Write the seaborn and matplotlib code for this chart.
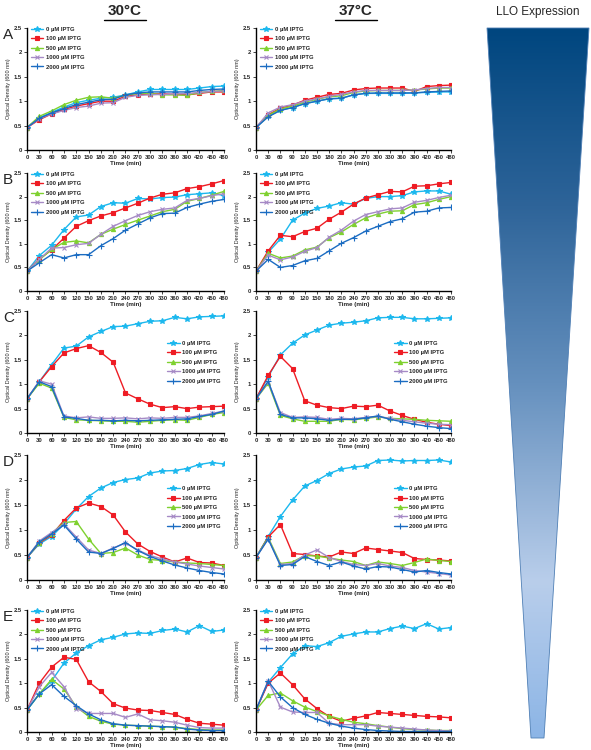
import matplotlib
matplotlib.use("Agg")
import matplotlib.pyplot as plt
import matplotlib.patches as mpatches
from matplotlib.lines import Line2D
from matplotlib.colors import LinearSegmentedColormap
import pandas as pd
import seaborn as sns
import numpy as np

# time points (min)
times = list(range(0, 481, 30))
concs = ['0 µM IPTG', '100 µM IPTG', '500 µM IPTG', '1000 µM IPTG', '2000 µM IPTG']

# OD600 readings per panel, one list per IPTG concentration (0, 100, 500, 1000, 2000)
a30 = [
    [0.46, 0.66, 0.77, 0.88, 0.97, 1.02, 1.06, 1.08, 1.13, 1.19, 1.24, 1.24, 1.24, 1.24, 1.27, 1.30, 1.31],
    [0.46, 0.62, 0.74, 0.83, 0.90, 0.95, 1.00, 1.00, 1.10, 1.13, 1.15, 1.15, 1.14, 1.13, 1.16, 1.19, 1.19],
    [0.46, 0.69, 0.80, 0.93, 1.02, 1.08, 1.09, 1.06, 1.12, 1.16, 1.16, 1.13, 1.13, 1.12, 1.18, 1.20, 1.22],
    [0.46, 0.64, 0.74, 0.81, 0.87, 0.90, 0.96, 0.97, 1.08, 1.12, 1.13, 1.14, 1.15, 1.16, 1.18, 1.20, 1.21],
    [0.46, 0.65, 0.76, 0.85, 0.93, 0.98, 1.03, 1.04, 1.13, 1.17, 1.19, 1.19, 1.19, 1.19, 1.22, 1.24, 1.25],
]
a37 = [
    [0.46, 0.69, 0.82, 0.87, 0.95, 1.00, 1.05, 1.06, 1.13, 1.16, 1.16, 1.16, 1.16, 1.17, 1.18, 1.19, 1.19],
    [0.46, 0.72, 0.86, 0.92, 1.02, 1.08, 1.14, 1.16, 1.23, 1.26, 1.27, 1.27, 1.27, 1.20, 1.30, 1.32, 1.33],
    [0.46, 0.71, 0.84, 0.90, 0.98, 1.04, 1.09, 1.11, 1.18, 1.21, 1.22, 1.22, 1.22, 1.23, 1.25, 1.27, 1.27],
    [0.46, 0.76, 0.88, 0.93, 1.00, 1.05, 1.10, 1.14, 1.19, 1.22, 1.22, 1.22, 1.22, 1.23, 1.26, 1.28, 1.28],
    [0.46, 0.68, 0.81, 0.87, 0.95, 1.00, 1.05, 1.06, 1.13, 1.16, 1.17, 1.17, 1.17, 1.17, 1.19, 1.20, 1.21],
]
b30 = [
    [0.42, 0.75, 0.97, 1.30, 1.57, 1.61, 1.79, 1.87, 1.86, 1.96, 1.95, 1.98, 1.99, 2.04, 2.06, 2.08, 2.02],
    [0.42, 0.68, 0.87, 1.12, 1.37, 1.49, 1.59, 1.66, 1.76, 1.86, 1.97, 2.05, 2.08, 2.17, 2.21, 2.27, 2.34],
    [0.42, 0.66, 0.88, 1.03, 1.06, 1.02, 1.20, 1.31, 1.41, 1.50, 1.59, 1.68, 1.73, 1.90, 1.96, 2.03, 2.11],
    [0.42, 0.67, 0.91, 0.92, 0.98, 1.01, 1.20, 1.37, 1.49, 1.60, 1.68, 1.73, 1.76, 1.92, 1.96, 2.02, 2.06],
    [0.42, 0.60, 0.77, 0.70, 0.77, 0.77, 0.96, 1.11, 1.29, 1.42, 1.55, 1.64, 1.65, 1.77, 1.84, 1.90, 1.94],
]
b37 = [
    [0.42, 0.82, 1.10, 1.50, 1.65, 1.75, 1.80, 1.87, 1.84, 1.96, 2.00, 2.00, 2.02, 2.10, 2.12, 2.12, 2.05],
    [0.42, 0.85, 1.18, 1.15, 1.26, 1.33, 1.52, 1.67, 1.84, 1.97, 2.04, 2.11, 2.10, 2.22, 2.23, 2.27, 2.30],
    [0.42, 0.80, 0.70, 0.74, 0.87, 0.93, 1.13, 1.25, 1.41, 1.55, 1.63, 1.69, 1.70, 1.83, 1.87, 1.94, 2.00],
    [0.42, 0.76, 0.66, 0.72, 0.84, 0.92, 1.14, 1.29, 1.48, 1.62, 1.68, 1.74, 1.76, 1.88, 1.92, 1.98, 2.03],
    [0.42, 0.67, 0.50, 0.54, 0.64, 0.69, 0.85, 1.01, 1.13, 1.27, 1.37, 1.47, 1.53, 1.67, 1.69, 1.76, 1.77],
]
c30 = [
    [0.70, 1.05, 1.40, 1.74, 1.78, 1.97, 2.08, 2.18, 2.19, 2.24, 2.29, 2.30, 2.37, 2.34, 2.38, 2.39, 2.40],
    [0.70, 1.05, 1.36, 1.64, 1.73, 1.79, 1.65, 1.45, 0.82, 0.70, 0.59, 0.52, 0.54, 0.50, 0.53, 0.54, 0.55],
    [0.70, 1.02, 0.92, 0.32, 0.27, 0.26, 0.25, 0.24, 0.24, 0.22, 0.24, 0.26, 0.27, 0.26, 0.32, 0.38, 0.42],
    [0.70, 1.07, 1.00, 0.35, 0.31, 0.33, 0.30, 0.30, 0.31, 0.29, 0.31, 0.30, 0.32, 0.32, 0.35, 0.40, 0.45],
    [0.70, 1.05, 0.95, 0.33, 0.30, 0.26, 0.26, 0.25, 0.26, 0.25, 0.26, 0.27, 0.28, 0.29, 0.34, 0.38, 0.45],
]
c37 = [
    [0.70, 1.15, 1.60, 1.84, 2.01, 2.11, 2.21, 2.25, 2.27, 2.30, 2.36, 2.37, 2.37, 2.34, 2.34, 2.35, 2.36],
    [0.70, 1.18, 1.57, 1.32, 0.66, 0.57, 0.52, 0.50, 0.55, 0.54, 0.57, 0.45, 0.36, 0.28, 0.22, 0.18, 0.15],
    [0.70, 1.02, 0.36, 0.29, 0.24, 0.24, 0.24, 0.28, 0.27, 0.30, 0.33, 0.30, 0.29, 0.28, 0.26, 0.25, 0.24],
    [0.70, 1.05, 0.42, 0.32, 0.33, 0.32, 0.28, 0.30, 0.29, 0.32, 0.34, 0.30, 0.26, 0.23, 0.20, 0.18, 0.17],
    [0.70, 1.06, 0.38, 0.31, 0.31, 0.29, 0.26, 0.28, 0.28, 0.31, 0.35, 0.28, 0.23, 0.18, 0.14, 0.11, 0.09],
]
d30 = [
    [0.45, 0.72, 0.87, 1.12, 1.42, 1.67, 1.84, 1.95, 2.01, 2.04, 2.14, 2.18, 2.19, 2.23, 2.31, 2.35, 2.32],
    [0.45, 0.74, 0.90, 1.19, 1.44, 1.54, 1.47, 1.30, 0.96, 0.72, 0.57, 0.46, 0.36, 0.44, 0.35, 0.34, 0.29],
    [0.45, 0.75, 0.93, 1.15, 1.17, 0.82, 0.53, 0.55, 0.64, 0.50, 0.41, 0.39, 0.36, 0.34, 0.33, 0.31, 0.29],
    [0.45, 0.78, 0.95, 1.12, 0.86, 0.60, 0.53, 0.64, 0.74, 0.60, 0.49, 0.42, 0.36, 0.32, 0.28, 0.25, 0.22],
    [0.45, 0.76, 0.92, 1.10, 0.82, 0.56, 0.53, 0.63, 0.75, 0.59, 0.47, 0.38, 0.30, 0.24, 0.19, 0.15, 0.12],
]
d37 = [
    [0.45, 0.87, 1.27, 1.60, 1.88, 1.99, 2.13, 2.22, 2.26, 2.28, 2.39, 2.40, 2.38, 2.39, 2.39, 2.40, 2.36],
    [0.45, 0.86, 1.11, 0.53, 0.51, 0.48, 0.46, 0.56, 0.53, 0.64, 0.61, 0.58, 0.55, 0.43, 0.41, 0.40, 0.38],
    [0.45, 0.85, 0.33, 0.36, 0.49, 0.48, 0.44, 0.40, 0.37, 0.29, 0.36, 0.33, 0.29, 0.35, 0.42, 0.39, 0.37],
    [0.45, 0.82, 0.31, 0.33, 0.50, 0.60, 0.45, 0.37, 0.31, 0.29, 0.33, 0.28, 0.25, 0.19, 0.16, 0.13, 0.10],
    [0.45, 0.82, 0.29, 0.31, 0.47, 0.37, 0.29, 0.36, 0.28, 0.22, 0.27, 0.26, 0.21, 0.16, 0.19, 0.15, 0.12],
]
e30 = [
    [0.45, 0.78, 1.05, 1.41, 1.62, 1.77, 1.89, 1.94, 2.01, 2.03, 2.02, 2.08, 2.11, 2.05, 2.18, 2.06, 2.09],
    [0.45, 1.00, 1.33, 1.53, 1.49, 1.03, 0.83, 0.58, 0.49, 0.45, 0.44, 0.40, 0.36, 0.26, 0.18, 0.16, 0.14],
    [0.45, 0.78, 1.08, 0.88, 0.52, 0.32, 0.22, 0.16, 0.14, 0.13, 0.12, 0.11, 0.10, 0.07, 0.05, 0.04, 0.04],
    [0.45, 0.93, 1.22, 0.93, 0.48, 0.38, 0.38, 0.38, 0.30, 0.37, 0.25, 0.23, 0.20, 0.14, 0.09, 0.08, 0.08],
    [0.45, 0.78, 0.97, 0.73, 0.54, 0.37, 0.25, 0.17, 0.14, 0.13, 0.12, 0.11, 0.10, 0.06, 0.04, 0.03, 0.03],
]
e37 = [
    [0.45, 1.02, 1.32, 1.60, 1.77, 1.75, 1.83, 1.96, 2.01, 2.05, 2.05, 2.12, 2.17, 2.12, 2.22, 2.11, 2.14],
    [0.45, 1.00, 1.21, 0.97, 0.68, 0.48, 0.32, 0.22, 0.28, 0.33, 0.40, 0.38, 0.36, 0.34, 0.32, 0.31, 0.29],
    [0.45, 0.75, 0.80, 0.64, 0.51, 0.42, 0.33, 0.26, 0.20, 0.17, 0.13, 0.10, 0.07, 0.05, 0.04, 0.03, 0.03],
    [0.45, 1.05, 0.51, 0.41, 0.40, 0.40, 0.18, 0.15, 0.15, 0.15, 0.12, 0.10, 0.08, 0.06, 0.04, 0.03, 0.02],
    [0.45, 1.04, 0.72, 0.50, 0.36, 0.26, 0.18, 0.12, 0.08, 0.05, 0.03, 0.02, 0.01, 0.01, 0.01, 0.01, 0.01],
]

panels = [('A', a30, a37), ('B', b30, b37), ('C', c30, c37), ('D', d30, d37), ('E', e30, e37)]

colors = ['#1cb8ee', '#ee1c24', '#7fd12f', '#a68ac6', '#1b6cc2']
markers = ['*', 's', '^', 'x', '+']
msizes = [4, 3, 3, 3, 4]

# legend placement for each panel (30C, 37C)
legend_locs = [('upper left', 'upper left'), ('upper left', 'upper left'),
               ('center right', 'center right'), ('center right', 'center right'),
               ('upper left', 'upper left')]

W, H = 591, 750
fig = plt.figure(figsize=(5.91, 7.5), dpi=100)
sns.set_style("ticks")
plt.rcParams['font.family'] = ['Liberation Sans', 'DejaVu Sans']

# rows: top / bottom pixel of axes
row_px = [(28, 150), (173, 291), (311, 433), (455, 580), (610, 732)]
col_px = [(27, 224), (256, 451)]


def make_df(series):
    rows = []
    for c, vals in zip(concs, series):
        for t, v in zip(times, vals):
            rows.append({'time': t, 'od': v, 'conc': c})
    return pd.DataFrame(rows)


for r, (letter, s30, s37) in enumerate(panels):
    top, bot = row_px[r]
    for c, series in enumerate([s30, s37]):
        x0, x1 = col_px[c]
        ax = fig.add_axes([x0 / W, 1 - bot / H, (x1 - x0) / W, (bot - top) / H])
        df = make_df(series)
        for i, conc in enumerate(concs):
            sub = df[df['conc'] == conc]
            sns.lineplot(data=sub, x='time', y='od', ax=ax, color=colors[i],
                         marker=markers[i], markersize=msizes[i], linewidth=1.0,
                         markeredgecolor=colors[i], markeredgewidth=0.8, label=conc)
        ax.set_xlim(0, 480)
        ax.set_ylim(0, 2.5)
        ax.set_xticks(times)
        ax.set_xticklabels([str(t) for t in times], fontsize=4.2, fontweight='bold')
        ax.set_yticks([0, 0.5, 1, 1.5, 2, 2.5])
        ax.set_yticklabels(['0', '0.5', '1', '1.5', '2', '2.5'], fontsize=4.2, fontweight='bold')
        ax.tick_params(length=2, width=0.6, pad=1.5)
        ax.set_xlabel('Time (min)', fontsize=4.5, fontweight='bold', labelpad=1)
        ax.set_ylabel('Optical Density (600 nm)', fontsize=4, labelpad=2)
        for sp in ['left', 'bottom']:
            ax.spines[sp].set_linewidth(1.0)
            ax.spines[sp].set_color('black')
        sns.despine(ax=ax)
        loc = legend_locs[r][c]
        if loc == 'upper left':
            leg = ax.legend(loc='upper left', bbox_to_anchor=(0.0, 1.04), frameon=False,
                            prop={'size': 4.2, 'weight': 'bold'}, handlelength=2.2,
                            labelspacing=0.75, borderaxespad=0.2, handletextpad=0.4)
        else:
            leg = ax.legend(loc='center right', bbox_to_anchor=(1.0, 0.58), frameon=False,
                            prop={'size': 4.2, 'weight': 'bold'}, handlelength=2.2,
                            labelspacing=0.75, borderaxespad=0.2, handletextpad=0.4)
    fig.text(3 / W, 1 - (top + 7) / H, letter, fontsize=11, va='center', ha='left')

# column titles
for xc, txt in [(125, '30°C'), (356, '37°C')]:
    fig.text(xc / W, 1 - 11 / H, txt, fontsize=11, fontweight='bold', ha='center', va='center')
    fig.add_artist(Line2D([(xc - 21) / W, (xc + 21) / W], [1 - 20 / H, 1 - 20 / H],
                          color='black', linewidth=1.0))

fig.text(538 / W, 1 - 12 / H, 'LLO Expression', fontsize=8.5, ha='center', va='center')

# gradient triangle
tax = fig.add_axes([0, 0, 1, 1])
tax.set_xlim(0, W)
tax.set_ylim(H, 0)
tax.axis('off')
cmap = LinearSegmentedColormap.from_list('llo', [
    (0.0, '#00467f'), (0.25, '#2e6499'), (0.5, '#6590be'),
    (0.78, '#b9ceeb'), (1.0, '#8cb5e6')])
grad = np.linspace(0, 1, 256).reshape(-1, 1)
im = tax.imshow(grad, cmap=cmap, extent=[486, 590, 738, 28], aspect='auto')
tri = mpatches.Polygon([(487, 28), (589, 28), (544, 738), (531, 738)], closed=True,
                       facecolor='none', edgecolor='#4f7fb5', linewidth=0.6)
tax.add_patch(tri)
im.set_clip_path(tri)

fig.savefig('out.png', dpi=100, facecolor='white')
